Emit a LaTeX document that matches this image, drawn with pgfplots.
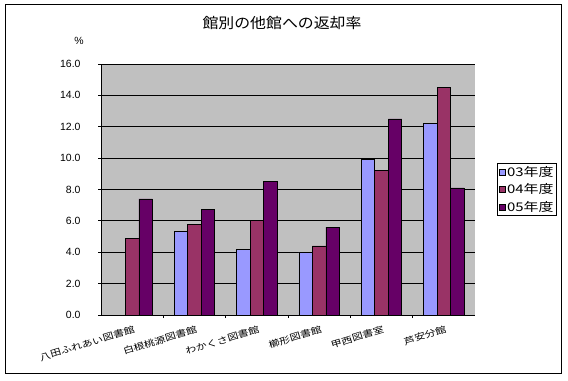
\documentclass[border=0pt]{standalone}
\usepackage{fontspec}
\setmainfont{Liberation Sans}
\newfontfamily\jpA[FakeStretch=1.1]{Noto Sans CJK JP}
\newfontfamily\jpB[FakeStretch=1.25]{Noto Sans CJK JP}
\usepackage{pgfplots}
\pgfplotsset{compat=1.18}
\definecolor{c03}{HTML}{9999FF}
\definecolor{c04}{HTML}{993366}
\definecolor{c05}{HTML}{660066}
\definecolor{bg}{HTML}{C0C0C0}
\pgfplotsset{sqlegend/.style={legend image code/.code={\draw[##1,line width=0.6bp] (0bp,-3bp) rectangle (6bp,3bp);}}}
\begin{document}
\begin{tikzpicture}[x=1bp,y=1bp]
\useasboundingbox (0,0) rectangle (568,380);
\draw[line width=1bp] (5,7) rectangle (561,375);
\node[font=\jpA\fontsize{14.5}{16}\selectfont] at (282,357) {館別の他館への返却率};
\begin{axis}[at={(101bp,65bp)}, anchor=south west,
  width=374bp, height=251bp, scale only axis,
  ybar=0pt, bar width=13.5bp,
  xmin=-0.5, xmax=5.5, ymin=0, ymax=16,
  ytick={0,2,...,16},
  yticklabel style={/pgf/number format/.cd,fixed,fixed zerofill,precision=1,/tikz/.cd,font=\fontsize{10.5}{12}\selectfont, xshift=-14bp},
  /pgf/number format/assume math mode=true,
  xtick={0,...,5},
  xticklabels={八田ふれあい図書館,白根桃源図書館,わかくさ図書館,櫛形図書館,甲西図書室,芦安分館},
  xticklabel style={font=\jpB\fontsize{8.8}{10}\selectfont, rotate=17, anchor=north east, inner sep=1bp, yshift=-6bp},
  major x tick style={draw=none},
  minor x tick num=1,
  minor tick length=3bp,
  major tick length=3bp,
  tick align=outside,
  tick style={black, line width=0.8bp},
  axis background/.style={fill=bg},
  ymajorgrids, grid style={black, line width=0.8bp},
  axis x line*=bottom, axis y line*=left,
  axis line style={black, line width=0.8bp},
  legend style={at={(1.059,0.5)}, anchor=west, draw=black, line width=0.8bp, fill=white,
    font=\jpB\fontsize{12}{14}\selectfont, inner xsep=1.5bp, inner ysep=1.5bp, row sep=3bp,
    nodes={inner xsep=1.5bp, inner ysep=1.5bp},
    legend cell align=left},
  clip=false,
]
\addplot[fill=c03, draw=black, line width=0.8bp, sqlegend] coordinates {(1,5.3) (2,4.2) (3,4.0) (4,9.9) (5,12.2)};
\addplot[fill=c04, draw=black, line width=0.8bp, sqlegend] coordinates {(0,4.9) (1,5.8) (2,6.0) (3,4.4) (4,9.2) (5,14.5)};
\addplot[fill=c05, draw=black, line width=0.8bp, sqlegend] coordinates {(0,7.4) (1,6.7) (2,8.5) (3,5.6) (4,12.5) (5,8.1)};
\legend{03年度,04年度,05年度}
\node[font=\fontsize{10.5}{12}\selectfont] at (rel axis cs:0,1) [xshift=-22bp, yshift=23bp] {\%};
\end{axis}
\end{tikzpicture}
\end{document}
